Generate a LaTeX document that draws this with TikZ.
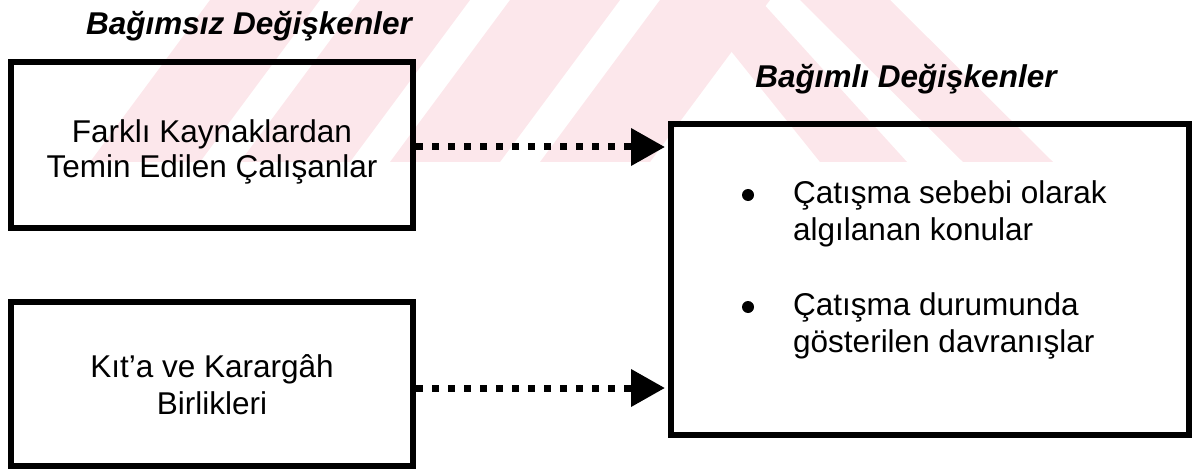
\documentclass[tikz,border=0pt]{standalone}
\usepackage{fontspec}
\setmainfont{Liberation Sans}
\usetikzlibrary{arrows.meta}
\definecolor{wmpink}{RGB}{252,231,235}
\begin{document}
\begin{tikzpicture}[x=1pt,y=-1pt,
  every node/.style={inner sep=0pt, text=black},
  bodytext/.style={font=\fontsize{31.5}{36}\selectfont},
  heading/.style={font=\fontsize{31.5}{37}\selectfont\bfseries\itshape, anchor=base},
  varbox/.style={draw=black, line width=6pt, rectangle, inner sep=0pt},
  bulletdot/.style={circle, fill=black, minimum size=12pt},
  link/.style={line width=7pt, dash pattern=on 7pt off 9pt,
    -{Triangle[length=34pt,width=36pt]}}]
\useasboundingbox (0,0) rectangle (1201,473);

% faint background stamp
\begin{scope}
  \clip (0,0) rectangle (1201,162);
  \foreach \x in {90,240,390,540}
    \fill[wmpink] (\x,162) -- (\x+110,162) -- (\x+230,0) -- (\x+120,0) -- cycle;
  \fill[wmpink] (690,0) -- (760,0) -- (907,162) -- (820,162) -- cycle;
  \fill[wmpink] (800,0) -- (890,0) -- (1053,162) -- (963,162) -- cycle;
\end{scope}

% headings
\node[heading] (ivhead) at (249,35) {Bağımsız Değişkenler};
\node[heading] (dvhead) at (906,88) {Bağımlı Değişkenler};

% independent variable boxes
\node[varbox, minimum width=402pt, minimum height=166pt] (iv1) at (212,145) {};
\node[bodytext, anchor=north, align=center, font=\fontsize{31.5}{35}\selectfont]
  (iv1text) at (212,119) {Farklı Kaynaklardan\\Temin Edilen Çalışanlar};

\node[varbox, minimum width=402pt, minimum height=164pt] (iv2) at (212,384) {};
\node[bodytext, anchor=north, align=center, font=\fontsize{31.5}{37}\selectfont]
  (iv2text) at (212,354) {Kıt’a ve Karargâh\\Birlikleri};

% dependent variable box
\node[varbox, minimum width=518pt, minimum height=311pt] (dv) at (930,279.5) {};
\node[bulletdot] (dot1) at (748,195) {};
\node[bodytext, anchor=north west, align=left, font=\fontsize{31.5}{37}\selectfont]
  (item1) at (793,180) {Çatışma sebebi olarak\\algılanan konular};
\node[bulletdot] (dot2) at (748,307) {};
\node[bodytext, anchor=north west, align=left, font=\fontsize{31.5}{37}\selectfont]
  (item2) at (793,292) {Çatışma durumunda\\gösterilen davranışlar};

% dotted connectors
\coordinate (s1) at ([yshift=-2pt]iv1.east);
\coordinate (e1) at (s1 -| dv.west);
\coordinate (s2) at ([yshift=-4pt]iv2.east);
\coordinate (e2) at (s2 -| dv.west);
\draw[link] (s1) -- ([xshift=-3pt]e1);
\draw[link] (s2) -- ([xshift=-3pt]e2);
\end{tikzpicture}
\end{document}
